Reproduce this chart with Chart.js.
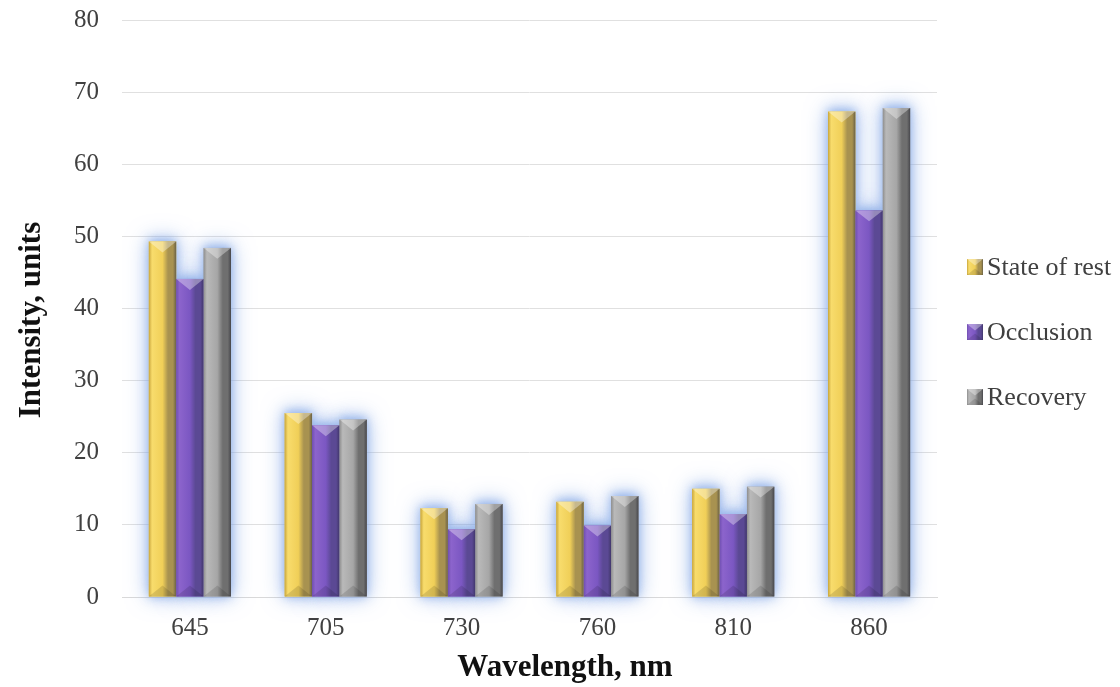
<!DOCTYPE html>
<html>
<head>
<meta charset="utf-8">
<script src="https://cdn.jsdelivr.net/npm/chart.js@4.4.1/dist/chart.umd.min.js"></script>
<style>
  html, body { margin: 0; padding: 0; background: #fff; }
  #grafica { display: block; }
</style>
</head>
<body>
<canvas id="grafica" width="1120" height="687"></canvas>
<script>
// longitudes de onda (nm) y series
const wavelengths = ['645', '705', '730', '760', '810', '860'];
const seriesNames = ['State of rest', 'Occlusion', 'Recovery'];
const stateOfRest = [49.3, 25.5, 12.3, 13.2, 15.0, 67.3];
const occlusion = [44.1, 23.8, 9.4, 9.9, 11.5, 53.6];
const recovery = [48.4, 24.6, 12.9, 14.0, 15.3, 67.8];
const yTicks = [0, 10, 20, 30, 40, 50, 60, 70, 80];

// tonos por serie: borde izq, cara clara, cara, lado oscuro, borde der
const shades = [
  ['#c9a63c', '#f8dc6c', '#f0cf58', '#a89250', '#6a6146'],
  ['#6f4fb0', '#8c64cc', '#7b57c2', '#5b4994', '#41376b'],
  ['#8e8e8e', '#b9b9b9', '#a6a6a6', '#6f6f6f', '#47474c']
];

const serif = "'Liberation Serif', 'Times New Roman', serif";

function paintBar(ctx, l, t, w, h, s) {
  const r = l + w;
  const b = t + h;
  const g = ctx.createLinearGradient(l, 0, r, 0);
  g.addColorStop(0, s[0]);
  g.addColorStop(0.12, s[1]);
  g.addColorStop(0.5, s[2]);
  g.addColorStop(0.7, s[3]);
  g.addColorStop(0.88, s[3]);
  g.addColorStop(1, s[4]);
  ctx.fillStyle = g;
  ctx.fillRect(l, t, w, h);
  const d = Math.min(w * 0.4, h / 2);
  const cx = l + w / 2;
  // punta superior
  ctx.beginPath();
  ctx.moveTo(l, t); ctx.lineTo(r, t); ctx.lineTo(cx, t + d); ctx.closePath();
  ctx.fillStyle = 'rgba(255,255,255,0.35)';
  ctx.fill();
  // punta inferior
  ctx.beginPath();
  ctx.moveTo(l, b); ctx.lineTo(r, b); ctx.lineTo(cx, b - d); ctx.closePath();
  ctx.fillStyle = 'rgba(0,0,0,0.12)';
  ctx.fill();
}

const brilloBarras = {
  id: 'brilloBarras',
  beforeDatasetsDraw(chart) {
    const ctx = chart.ctx;
    ctx.save();
    ctx.shadowColor = 'rgba(130,165,230,0.75)';
    ctx.shadowOffsetX = 5000;
    ctx.fillStyle = '#000';
    [22, 10].forEach(blur => {
      ctx.shadowBlur = blur;
      chart.data.datasets.forEach((ds, i) => {
        chart.getDatasetMeta(i).data.forEach(bar => {
          const p = bar.getProps(['x', 'y', 'base', 'width'], true);
          ctx.fillRect(p.x - p.width / 2 - 5000, p.y - 2, p.width, p.base - p.y + 2);
        });
      });
    });
    ctx.restore();
  },
  afterDatasetsDraw(chart) {
    const ctx = chart.ctx;
    ctx.save();
    chart.data.datasets.forEach((ds, i) => {
      chart.getDatasetMeta(i).data.forEach(bar => {
        const p = bar.getProps(['x', 'y', 'base', 'width'], true);
        paintBar(ctx, p.x - p.width / 2, p.y, p.width, p.base - p.y, shades[i]);
      });
    });
    ctx.restore();
  }
};

// leyenda y títulos de ejes
const rotulos = {
  id: 'rotulos',
  afterDraw(chart) {
    const ctx = chart.ctx;
    ctx.save();
    ctx.textBaseline = 'middle';

    ctx.font = '26px ' + serif;
    const ys = [267, 332, 397];
    seriesNames.forEach((name, i) => {
      paintBar(ctx, 967, ys[i] - 8, 16, 16, shades[i]);
      ctx.fillStyle = '#404040';
      ctx.fillText(name, 987, ys[i] + 1);
    });

    ctx.fillStyle = '#111';
    ctx.font = 'bold 31px ' + serif;
    ctx.textAlign = 'center';
    ctx.fillText('Wavelength, nm', 565, 668);

    ctx.translate(32, 320);
    ctx.rotate(-Math.PI / 2);
    ctx.fillText('Intensity, units', 0, 0);
    ctx.restore();
  }
};

const datos = [stateOfRest, occlusion, recovery];

new Chart(document.getElementById('grafica').getContext('2d'), {
  type: 'bar',
  data: {
    labels: wavelengths,
    datasets: seriesNames.map((name, i) => ({
      label: name,
      data: datos[i],
      backgroundColor: shades[i][2],
      borderWidth: 0,
      categoryPercentage: 0.605,
      barPercentage: 1.0
    }))
  },
  options: {
    responsive: false,
    animation: false,
    layout: { padding: { left: 18, right: 183, top: 20, bottom: 8 } },
    plugins: {
      legend: { display: false },
      tooltip: { enabled: false }
    },
    scales: {
      x: {
        grid: { display: false, drawTicks: false },
        border: { color: '#d9d9d9', width: 1 },
        ticks: { color: '#404040', font: { family: serif, size: 25 }, padding: 16 },
        afterFit: s => { s.height = 82; }
      },
      y: {
        min: 0,
        max: 80,
        afterBuildTicks: s => { s.ticks = yTicks.map(v => ({ value: v })); },
        grid: { color: '#e0e0e0', drawTicks: false },
        border: { display: false },
        ticks: { color: '#404040', font: { family: serif, size: 25 }, padding: 23 },
        afterFit: s => {
          s.width = 104;
          s.paddingTop = 0;
          s.paddingBottom = 0;
        }
      }
    }
  },
  plugins: [brilloBarras, rotulos]
});
</script>
</body>
</html>
